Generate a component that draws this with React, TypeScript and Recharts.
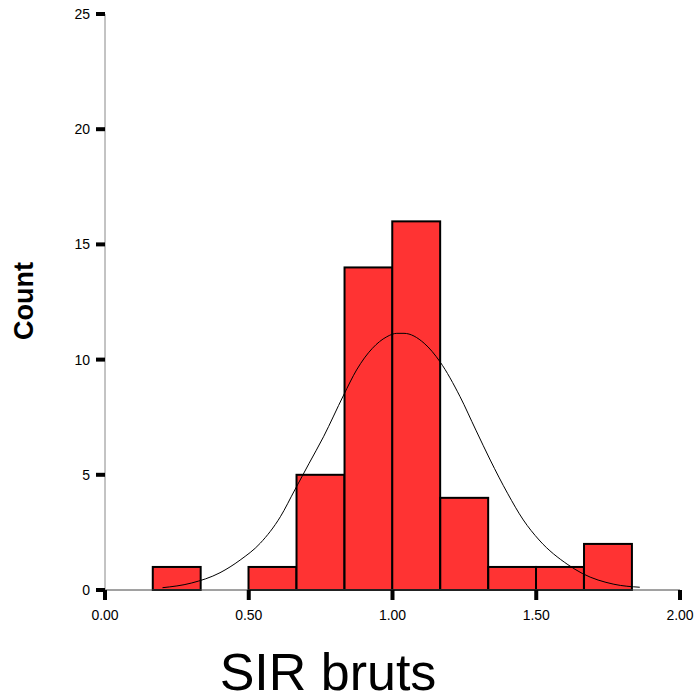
import { ComposedChart, Bar, Line, XAxis, YAxis } from "recharts";

// histogram bins (centre of each bin, width 1/6)
const binCenters = [0.25, 0.417, 0.583, 0.75, 0.917, 1.083, 1.25, 1.417, 1.583, 1.75];
const binCounts = [1, 0, 1, 5, 14, 16, 4, 1, 1, 2];

// fitted normal curve
const curveX = [0.2, 0.3, 0.4, 0.47, 0.54, 0.61, 0.66, 0.71, 0.76, 0.83, 0.875, 0.93, 0.98, 1.015, 1.04, 1.11, 1.165, 1.235, 1.29, 1.34, 1.4, 1.455, 1.51, 1.61, 1.66, 1.77, 1.86];
const curveY = [0.1, 0.3, 0.75, 1.3, 2.03, 3.18, 4.34, 5.5, 6.65, 8.46, 9.55, 10.49, 10.99, 11.14, 11.14, 10.71, 9.91, 8.39, 6.94, 5.64, 4.2, 3.04, 2.17, 1.1, 0.72, 0.25, 0.12];

const xTicks = [0, 0.5, 1, 1.5, 2];
const yTicks = [0, 5, 10, 15, 20, 25];

const bars = binCenters.map((x, i) => ({ x, count: binCounts[i] }));
const curve = curveX.map((x, i) => ({ x, fit: curveY[i] }));

const FONT = "'Liberation Sans', Arial, sans-serif";
const tick = { fill: "#000", fontSize: 14, fontFamily: FONT };
const BIN_PX = 47.9; // one bin (1/6) on a 575px wide axis of 0..2

// numeric x axis gives a thin band, so draw each bin at full width round its centre
function BinRect(props: any) {
  const { x, y, width, height } = props;
  if (!height) return null;
  const cx = x + width / 2;
  return (
    <rect x={cx - BIN_PX / 2} y={y} width={BIN_PX} height={height} fill="#ff3333" stroke="#000" strokeWidth={2} />
  );
}

export default function App() {
  return (
    <div style={{ position: "absolute", left: 0, top: 0, width: 700, height: 700, background: "#fff" }}>
      <ComposedChart
        width={700}
        height={700}
        data={bars}
        margin={{ top: 14, right: 20, left: 0, bottom: 70 }}
      >
        <XAxis
          dataKey="x"
          type="number"
          domain={[0, 2]}
          ticks={xTicks}
          tickFormatter={(v) => v.toFixed(2)}
          tick={tick}
          tickSize={10}
          tickMargin={10}
          tickLine={{ stroke: "#000", strokeWidth: 4 }}
          axisLine={{ stroke: "#444" }}
          height={40}
          allowDataOverflow
        />
        <XAxis xAxisId="top" orientation="top" type="number" domain={[0, 2]} tick={false} tickLine={false} axisLine={{ stroke: "#888" }} height={0} />
        <YAxis
          type="number"
          domain={[0, 25]}
          ticks={yTicks}
          tick={tick}
          tickSize={9}
          tickMargin={6}
          tickLine={{ stroke: "#000", strokeWidth: 4 }}
          axisLine={{ stroke: "#888" }}
          width={105}
        />
        <YAxis yAxisId="right" orientation="right" domain={[0, 25]} tick={false} tickLine={false} axisLine={{ stroke: "#666" }} width={0} />
        <Bar dataKey="count" shape={<BinRect />} isAnimationActive={false} />
        <Line
          data={curve}
          dataKey="fit"
          type="monotone"
          stroke="#000"
          strokeWidth={1}
          dot={false}
          activeDot={false}
          isAnimationActive={false}
        />
      </ComposedChart>
      <svg width={700} height={700} style={{ position: "absolute", left: 0, top: 0, pointerEvents: "none" }}>
        <text x={328} y={690} textAnchor="middle" fontSize={52} fontFamily={FONT} fill="#000">
          SIR bruts
        </text>
        <text
          transform="translate(33,301) rotate(-90)"
          textAnchor="middle"
          fontSize={27}
          fontWeight="bold"
          fontFamily={FONT}
          fill="#000"
        >
          Count
        </text>
      </svg>
    </div>
  );
}
